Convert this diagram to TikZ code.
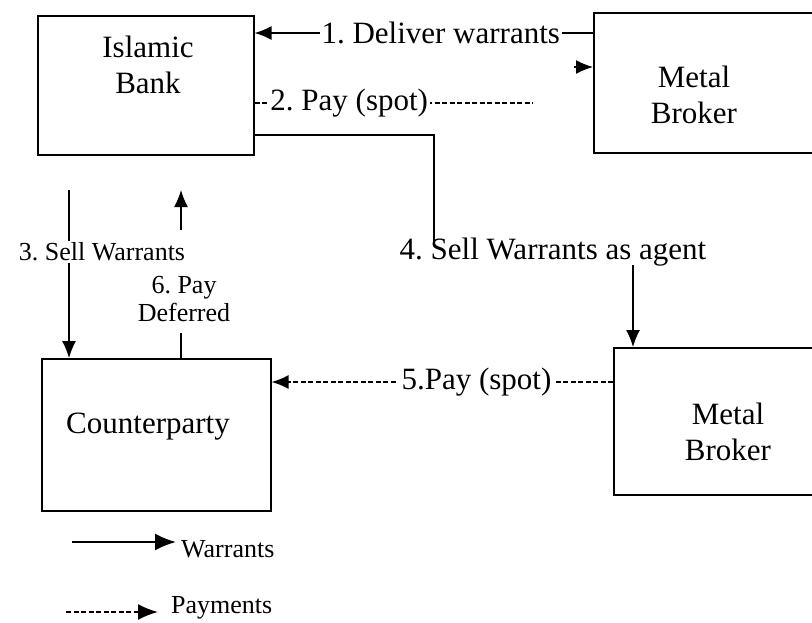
\documentclass[tikz,border=0pt]{standalone}
\usepackage{fontspec}
\setmainfont{Liberation Serif}
\usetikzlibrary{positioning,arrows.meta}

\begin{document}
\frenchspacing
\begin{tikzpicture}[x=1pt, y=-1pt,
    box/.style={draw, line width=1.6pt, rectangle, inner sep=0pt},
    lbl/.style={font=\fontsize{31}{36}\selectfont, align=center, inner sep=2pt},
    sml/.style={font=\fontsize{26}{28}\selectfont, align=center, inner sep=2pt},
    link/.style={line width=1.3pt},
    warrant/.style={link, -{Latex[length=17pt,width=14pt]}},
    pay/.style={warrant, dash pattern=on 5pt off 2.5pt}]

    \useasboundingbox (0,0) rectangle (812,622);
    \clip (0,0) rectangle (812,622);

    \node [box, minimum width=216pt, minimum height=139pt, anchor=north west] (bank) at (37,15) {};
    \node [lbl] (banktxt) at (148,65) {Islamic\\Bank};
    \node [box, minimum width=240pt, minimum height=140pt, anchor=north west] (broker1) at (593,12) {};
    \node [lbl] (broker1txt) at (694,95) {Metal\\Broker};
    \node [box, minimum width=229pt, minimum height=152pt, anchor=north west] (cpty) at (41,358) {};
    \node [lbl] (cptytxt) at (148,427) {Counterparty};
    \node [box, minimum width=240pt, minimum height=147pt, anchor=north west] (broker2) at (613,347) {};
    \node [lbl] (broker2txt) at (728,432) {Metal\\Broker};

    \coordinate (p2) at (533,103);
    \coordinate (p2b) at (574,67);
    \coordinate (s3) at (69,190);
    \coordinate (c4a) at (434,243);
    \coordinate (c4b) at (633,265);
    \coordinate (d6) at (181,333);
    \coordinate (u6) at (181,230);
    \coordinate (e6) at (181,190);

    \draw [warrant] (broker1.west |- 0,33) -- node [lbl, fill=white, pos=0.45] {1. Deliver warrants} (bank.east |- 0,33);
    \draw [pay, -] (bank.east |- p2) -- node [lbl, fill=white, pos=0.34] {2. Pay (spot)} (p2);
    \draw [warrant] (p2b) -- (broker1.west |- p2b);

    \draw [warrant] (s3) -- node [sml, fill=white, pos=0.37, xshift=33pt] {3. Sell Warrants} (cpty.north -| s3);

    \node [lbl] (t4) at (553,252) {4. Sell Warrants as agent};
    \draw [link] (bank.east |- 0,135) -| (c4a);
    \draw [warrant] (c4b) -- (broker2.north -| c4b);

    \draw [pay] (broker2.west |- 0,382) -- node [lbl, fill=white, pos=0.40, inner xsep=5pt] {5.Pay (spot)} (cpty.east |- 0,382);

    \node [sml] (t6) at (184,299) {6. Pay\\Deferred};
    \draw [link] (cpty.north -| d6) -- (d6);
    \draw [warrant] (u6) -- (e6);

    \node [sml, anchor=west] (legw) at (179,549) {Warrants};
    \node [sml, anchor=west] (legp) at (169,608) {Payments};
    \draw [link, line width=2pt, -{Latex[length=21pt,width=17pt]}] (72,542) -- ([xshift=-3pt]legw.west |- 0,542);
    \draw [link, line width=1.8pt, dash pattern=on 5pt off 2.5pt, -{Latex[length=20pt,width=16pt]}] (66,612) -- ([xshift=-11pt]legp.west |- 0,612);
\end{tikzpicture}
\end{document}
